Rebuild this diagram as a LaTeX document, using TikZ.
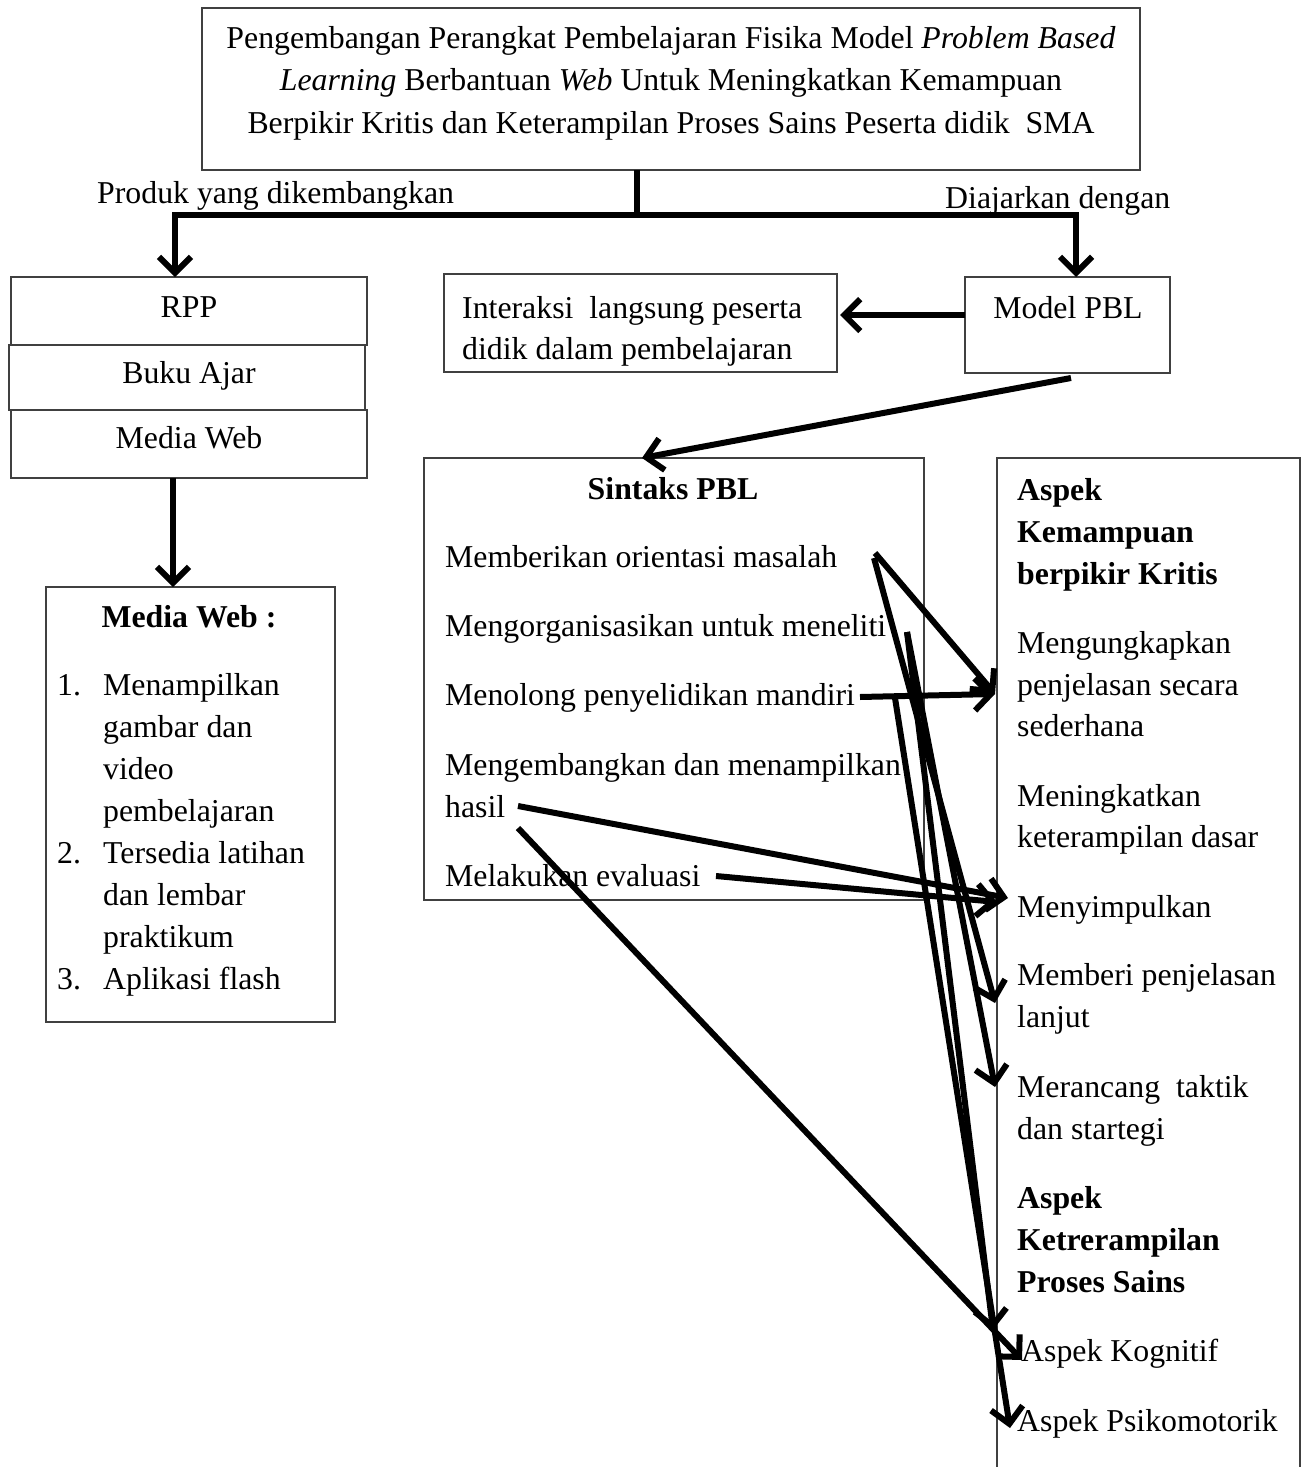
\documentclass[tikz,border=0pt]{standalone}
\usepackage{fontspec}
\setmainfont{Liberation Serif}
\usetikzlibrary{arrows.meta}
\newcommand\fsz{\fontsize{31.8}{42}\selectfont}
\begin{document}
\begin{tikzpicture}[x=1pt,y=-1pt,font=\fsz,
  box/.style={draw=black!75,line width=1.3pt,inner sep=0pt,outer sep=0pt,anchor=north west},
  txt/.style={inner sep=0pt,anchor=base west},
  ctxt/.style={inner sep=0pt,anchor=base},
  conn/.style={line width=6pt,black},
  arr/.style={conn,-{Straight Barb[length=16pt,width=32pt]}}]
\useasboundingbox (0,0) rectangle (1309,1467);
% boxes
\node[box,minimum width=938pt,minimum height=162pt] (title) at (202,8) {};
\node[box,minimum width=356pt,minimum height=68pt] (rpp) at (11,277) {};
\node[box,minimum width=356pt,minimum height=65pt] (buku) at (9,345) {};
\node[box,minimum width=356pt,minimum height=68pt] (mweb) at (11,410) {};
\node[box,minimum width=289pt,minimum height=435pt] (list) at (46,587) {};
\node[box,minimum width=393pt,minimum height=98pt] (inter) at (444,274) {};
\node[box,minimum width=205pt,minimum height=96pt] (model) at (965,277) {};
\node[box,minimum width=500pt,minimum height=442pt] (sintaks) at (424,458) {};
\node[box,minimum width=303pt,minimum height=1030pt] (aspek) at (997,458) {};
% title text
\node[ctxt] (t1) at (671,48) {Pengembangan Perangkat Pembelajaran Fisika Model \textit{Problem Based}};
\node[ctxt] (t2) at (671,90) {\textit{Learning} Berbantuan \textit{Web} Untuk Meningkatkan Kemampuan};
\node[ctxt] (t3) at (671,133) {Berpikir Kritis dan Keterampilan Proses Sains Peserta didik\ \ SMA};
% branch labels
\node[txt] (lprod) at (97,203) {Produk yang dikembangkan};
\node[txt] (lajar) at (945,208) {Diajarkan dengan};
% left column
\node[ctxt] (trpp) at (189,317) {RPP};
\node[ctxt] (tbuku) at (189,383) {Buku Ajar};
\node[ctxt] (tmweb) at (189,448) {Media Web};
\node[ctxt] (lhead) at (189,627) {\textbf{Media Web :}};
\node[txt] (n1) at (57,695) {1.};
\node[txt] (l1a) at (103,695) {Menampilkan};
\node[txt] (l1b) at (103,737) {gambar dan};
\node[txt] (l1c) at (103,779) {video};
\node[txt] (l1d) at (103,821) {pembelajaran};
\node[txt] (n2) at (57,863) {2.};
\node[txt] (l2a) at (103,863) {Tersedia latihan};
\node[txt] (l2b) at (103,905) {dan lembar};
\node[txt] (l2c) at (103,947) {praktikum};
\node[txt] (n3) at (57,989) {3.};
\node[txt] (l3a) at (103,989) {Aplikasi flash};
% middle top
\node[txt] (i1) at (462,318) {Interaksi\ \ langsung peserta};
\node[txt] (i2) at (462,359) {didik dalam pembelajaran};
\node[ctxt] (tmodel) at (1068,318) {Model PBL};
% sintaks
\node[ctxt] (shead) at (673,499) {\textbf{Sintaks PBL}};
\node[txt] (s1) at (445,567) {Memberikan orientasi masalah};
\node[txt] (s2) at (445,636) {Mengorganisasikan untuk meneliti};
\node[txt] (s3) at (445,705) {Menolong penyelidikan mandiri};
\node[txt] (s4) at (445,775) {Mengembangkan dan menampilkan};
\node[txt] (s4b) at (445,817) {hasil};
\node[txt] (s5) at (445,886) {Melakukan evaluasi};
% aspek
\node[txt] (a1) at (1017,500) {\textbf{Aspek}};
\node[txt] (a2) at (1017,542) {\textbf{Kemampuan}};
\node[txt] (a3) at (1017,584) {\textbf{berpikir Kritis}};
\node[txt] (k1) at (1017,653) {Mengungkapkan};
\node[txt] (k1b) at (1017,695) {penjelasan secara};
\node[txt] (k1c) at (1017,736) {sederhana};
\node[txt] (k2) at (1017,806) {Meningkatkan};
\node[txt] (k2b) at (1017,847) {keterampilan dasar};
\node[txt] (k3) at (1017,917) {Menyimpulkan};
\node[txt] (k4) at (1017,985) {Memberi penjelasan};
\node[txt] (k4b) at (1017,1027) {lanjut};
\node[txt] (k5) at (1017,1097) {Merancang\ \ taktik};
\node[txt] (k5b) at (1017,1139) {dan startegi};
\node[txt] (b1) at (1017,1208) {\textbf{Aspek}};
\node[txt] (b2) at (1017,1250) {\textbf{Ketrerampilan}};
\node[txt] (b3) at (1017,1292) {\textbf{Proses Sains}};
\node[txt] (p1) at (1021,1361) {Aspek Kognitif};
\node[txt] (p2) at (1017,1431) {Aspek Psikomotorik};
% top connectors
\coordinate (split) at (637,215);
\coordinate (lb) at (175,215);
\coordinate (rb) at (1076,215);
\draw[conn] (split |- title.south) -- (split);
\draw[conn,line cap=rect] (lb) -- (rb);
\draw[arr] (lb) -- (lb |- rpp.north);
\draw[arr] (rb) -- (rb |- model.north);
\coordinate (mw) at (173,478);
\draw[arr] (mw) -- (mw |- list.north);
\coordinate (mlft) at (965,315);
\coordinate (itip) at (840,315);
\draw[arr] (mlft) -- (itip);
\coordinate (mbot) at (1071,378);
\coordinate (stip) at (642,458);
\draw[arr] (mbot) -- (stip);
% sintaks arrow start points
\coordinate (o1) at (875,553);
\coordinate (o2) at (874,558);
\coordinate (g1) at (907,632);
\coordinate (m1) at (860,697);
\coordinate (m2) at (895,698);
\coordinate (h1) at (518,806);
\coordinate (h2) at (518,828);
\coordinate (e1) at (716,876);
% targets
\coordinate (tk1) at (995,694);
\coordinate (tk3a) at (1008,898);
\coordinate (tk3b) at (997,902);
\coordinate (tk4) at (995,1003);
\coordinate (tk5) at (995,1087);
\coordinate (tpk) at (993,1330);
\coordinate (tpk2) at (1022,1360);
\coordinate (tpp) at (1010,1428);
\draw[arr] (o1) -- (tk1);
\draw[arr] (o2) -- (tk4);
\draw[arr] (g1) -- (tk5);
\draw[arr] (g1) -- (tpk);
\draw[arr] (m1) -- (tk1);
\draw[arr] (m2) -- (tpp);
\draw[arr] (h1) -- (tk3a);
\draw[arr] (h2) -- (tpk2);
\draw[arr] (e1) -- (tk3b);
\end{tikzpicture}
\end{document}
